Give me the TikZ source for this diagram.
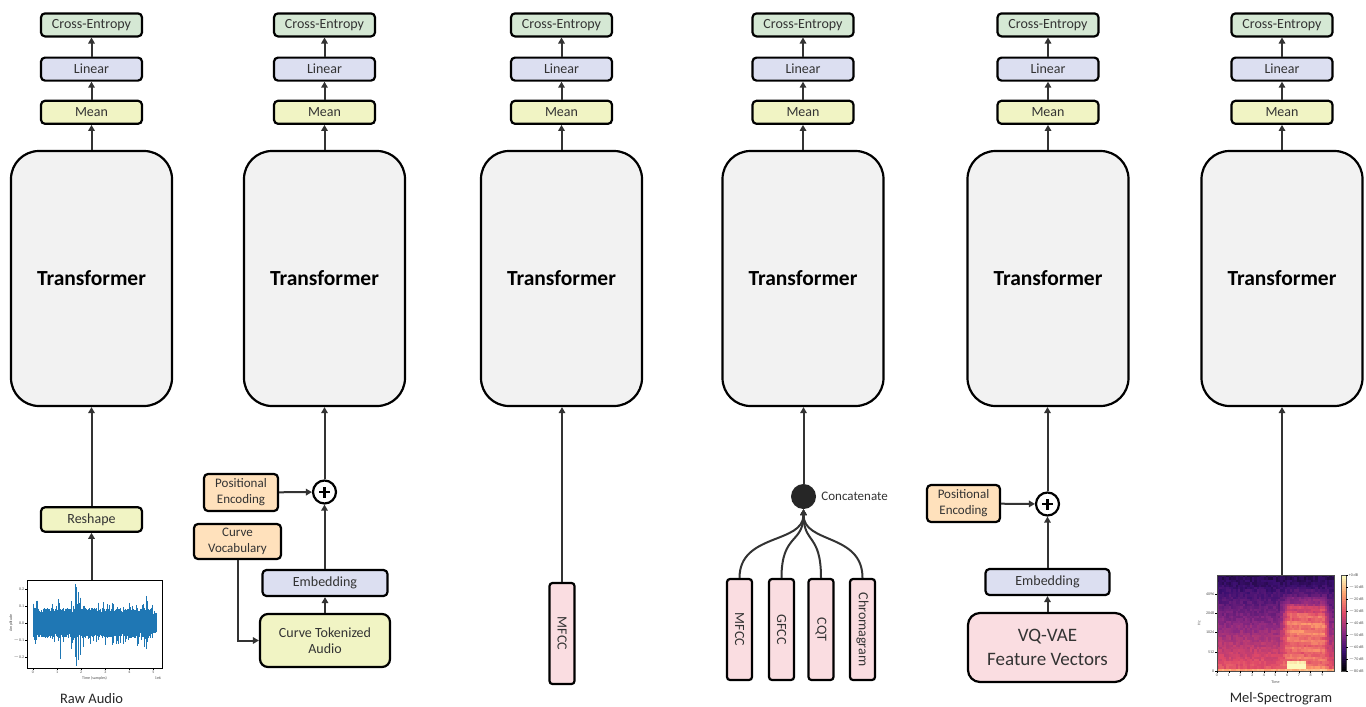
\documentclass[tikz,border=0pt]{standalone}
\usepackage{fontspec}
\setmainfont{Carlito}
\usepackage{graphicx}
\usetikzlibrary{arrows.meta,positioning,calc}

\definecolor{ceGreen}{HTML}{D5E8D4}
\definecolor{linBlue}{HTML}{DCDFF1}
\definecolor{meanYel}{HTML}{F1F4C4}
\definecolor{peEnc}{HTML}{FFE1BC}
\definecolor{featPink}{HTML}{FADDE1}
\definecolor{trGray}{HTML}{F2F2F2}
\definecolor{lineGray}{HTML}{333333}
\definecolor{waveBlue}{HTML}{1F77B4}
% magma colour map
\definecolor{mg0}{HTML}{000004}
\definecolor{mg1}{HTML}{3B0F70}
\definecolor{mg2}{HTML}{8C2981}
\definecolor{mg3}{HTML}{DE4968}
\definecolor{mg4}{HTML}{FE9F6D}
\definecolor{mg5}{HTML}{FCFDBF}

\tikzset{
  box/.style={draw=black, line width=2.2pt, rounded corners=4pt, text=lineGray,
    font=\fontsize{14}{16}\selectfont, minimum width=101pt, minimum height=23pt,
    inner sep=0pt, align=center},
  cebox/.style={box, fill=ceGreen},
  linbox/.style={box, fill=linBlue},
  meanbox/.style={box, fill=meanYel},
  trbox/.style={draw=black, line width=2.2pt, rounded corners=28pt, fill=trGray,
    minimum width=161pt, minimum height=255pt, font=\fontsize{21.5}{24}\selectfont\bfseries},
  pebox/.style={box, fill=peEnc, font=\fontsize{13}{16}\selectfont},
  featbar/.style={box, fill=featPink, minimum width=25pt, minimum height=101pt, rounded corners=3pt},
  addnode/.style={circle, draw=black, line width=2.2pt, fill=white, minimum size=23pt, inner sep=0pt,
    path picture={
      \draw[line width=2.6pt] ([xshift=-5.5pt]path picture bounding box.center) -- ([xshift=5.5pt]path picture bounding box.center);
      \draw[line width=2.6pt] ([yshift=-5.5pt]path picture bounding box.center) -- ([yshift=5.5pt]path picture bounding box.center);}},
  catnode/.style={circle, fill=black!85, minimum size=25pt, inner sep=0pt},
  arr/.style={draw=lineGray, line width=2pt, -{Triangle[length=6pt,width=6.5pt]}},
  lbl/.style={font=\fontsize{14.5}{16}\selectfont, text=black!85},
  tick/.style={font=\fontsize{4}{4}\selectfont, text=black!70, inner sep=0.6pt},
}

\begin{document}
\begin{tikzpicture}[x=1pt, y=-1pt]
\useasboundingbox (0,0) rectangle (1366,707);

% same head on every column
\foreach \c/\x in {1/91.5, 2/324.5, 3/561.5, 4/803, 5/1048, 6/1282}{
  \node[trbox] (Tr\c) at (\x,278.5) {Transformer};
  \node[meanbox, above=25pt of Tr\c] (Mean\c) {Mean};
  \node[linbox, above=18pt of Mean\c] (Lin\c) {Linear};
  \node[cebox, above=19pt of Lin\c] (CE\c) {Cross-Entropy};
  \draw[arr] (Tr\c) -- (Mean\c);
  \draw[arr] (Mean\c) -- (Lin\c);
  \draw[arr] (Lin\c) -- (CE\c);
}

% raw audio
\node[meanbox, minimum height=24.5pt] (Resh1) at (91.5,519.5) {Reshape};
\node[draw=black, line width=0.6pt, inner sep=0pt, minimum width=135pt, minimum height=88pt] (Wave) at (94.5,624) {};
\begin{scope}[waveBlue, line width=0.55pt]
  \pgfmathsetseed{7}
  \foreach \i in {0,...,300}{
    \pgfmathsetmacro\xx{33+\i*0.41}
    \pgfmathsetmacro\up{10+5*rnd+(rnd>0.86)*10*rnd-(\i>292)*4}
    \pgfmathsetmacro\dn{10+5*rnd+(rnd>0.86)*9*rnd-(\i>292)*4}
    \draw (\xx,{623-\up}) -- (\xx,{623+\dn});
  }
  \foreach \t/\u/\d in {0.05/0.09/0.1, 1.05/0.14/0.1, 1.12/0.08/0.21, 1.6/0.13/0.15, 1.76/0.23/0.2,
      1.8/0.21/0.25, 1.86/0.18/0.22, 1.95/0.15/0.19, 2.1/0.1/0.14, 2.7/0.12/0.1, 3.35/0.11/0.12,
      4.62/0.07/0.14, 4.7/0.16/0.15}{
    \draw ({33+\t*24.1},{623-\u*170}) -- ({33+\t*24.1},{623+\d*170});
  }
\end{scope}
\foreach \v/\y in {0.2/589, 0.1/606, 0.0/623, $-$0.1/640, $-$0.2/657}{
  \draw[line width=0.4pt] (27,\y) -- (25,\y);
  \node[tick, anchor=east] at (25,\y) {\v};
}
\foreach \k in {0,...,5}{
  \draw[line width=0.4pt] ({33+\k*24.1},668) -- ({33+\k*24.1},670);
  \node[tick, anchor=north] at ({33+\k*24.1},670) {\k};
}
\node[tick, rotate=90] at (11,623) {Amplitude};
\node[tick] at (94.5,678) {Time (samples)};
\node[tick] at (158,678) {1e6};
\node[lbl] (RawLbl) at (91.5,699) {Raw Audio};
\draw[arr] (Wave.north -| Resh1.south) -- (Resh1);
\draw[arr] (Resh1) -- (Tr1);

% curve tokens
\node[addnode] (Add2) at (324.5,492) {};
\node[pebox, minimum width=74pt, minimum height=37pt] (Pos2) at (241,492.5) {Positional\\Encoding};
\node[pebox, minimum width=87pt, minimum height=35pt] (Voc2) at (237.5,541.5) {Curve\\Vocabulary};
\node[linbox, minimum width=125pt, minimum height=26pt] (Emb2) at (325,583) {Embedding};
\node[meanbox, minimum width=130pt, minimum height=53pt, rounded corners=8pt] (Tok2) at (325,640.5) {Curve Tokenized\\Audio};
\draw[arr] (Tok2) -- (Emb2);
\draw[arr] (Emb2.north -| Add2) -- (Add2);
\draw[arr] (Pos2) -- (Add2);
\draw[arr] (Add2) -- (Tr2);
\draw[arr] (Voc2.south) |- (Tok2.west);

% mfcc
\node[featbar] (Mfcc3) at (562,633.5) {\rotatebox{-90}{MFCC}};
\draw[arr] (Mfcc3) -- (Mfcc3 |- Tr3.south);

% concatenated features
\node[catnode] (Cat4) at (803.5,496.5) {};
\node[right=5pt of Cat4, font=\fontsize{13}{15}\selectfont, text=lineGray, inner sep=0pt] (CatLbl) {Concatenate};
\foreach \n/\x/\t in {Mfcc4/739.5/MFCC, Gfcc4/781.5/GFCC, Cqt4/821/CQT, Chroma4/862.5/Chromagram}{
  \node[featbar] (\n) at (\x,629.5) {\rotatebox{-90}{\t}};
  \draw[arr] (\n.north) .. controls +(0,-45) and +(0,35) .. (Cat4.south);
}
\draw[arr] (Cat4) -- (Cat4 |- Tr4.south);

% vq-vae
\node[addnode] (Add5) at (1047.5,504) {};
\node[pebox, minimum width=73pt, minimum height=37pt] (Pos5) at (963.5,503.5) {Positional\\Encoding};
\node[linbox, minimum width=124pt, minimum height=26pt] (Emb5) at (1047.5,582) {Embedding};
\node[box, fill=featPink, minimum width=159pt, minimum height=69pt, rounded corners=12pt,
  font=\fontsize{19}{24}\selectfont] (Vq5) at (1047.5,647.5) {VQ-VAE\\Feature Vectors};
\draw[arr] (Vq5) -- (Emb5);
\draw[arr] (Emb5) -- (Add5);
\draw[arr] (Pos5) -- (Add5);
\draw[arr] (Add5) -- (Add5 |- Tr5.south);

% mel-spectrogram
\node[inner sep=0pt, minimum width=117pt, minimum height=96pt] (Mel) at (1275.5,623) {};
\pgfmathsetseed{3}
\foreach \i in {0,...,49}{
  \foreach \j in {0,...,39}{
    \pgfmathsetmacro\tm{\i/49*10}
    \pgfmathsetmacro\hh{\j/39}
    \pgfmathsetmacro\sp{min(1,max(0,(\tm-5.3)*1.1))*min(1,max(0,(9.8-\tm)*1.5))*min(1,max(0,(0.92-\hh)*4))}
    \pgfmathsetmacro\vv{0.6-0.5*\hh+0.08*rnd+(\j==0)*0.17+\sp*(0.08+0.24*exp(-((\hh-0.5)/0.25)^2)+0.05*sin(\hh*4000+\tm*40))+and(\tm>6.1,\tm<7.6)*and(\j>0,\j<4)*0.3}
    \pgfmathsetmacro\vv{max(0,min(0.995,\vv))}
    \pgfmathtruncatemacro\sg{floor(\vv*5)}
    \pgfmathtruncatemacro\pc{(\vv*5-\sg)*100}
    \pgfmathtruncatemacro\sn{\sg+1}
    \path[fill={mg\sn!\pc!mg\sg}] ({1217+\i*2.34},{671-(\j+1)*2.4-0.2}) rectangle ({1217+(\i+1)*2.34+0.2},{671-\j*2.4});
  }
}
\draw[line width=0.4pt, black!70] (1217,575) rectangle (1334,671);
\foreach \v/\y in {0/671, 512/652, 1024/632, 2048/613, 4096/594}{
  \draw[line width=0.4pt] (1217,\y) -- (1215,\y);
  \node[tick, anchor=east] at (1215,\y) {\v};
}
\foreach \k in {0,...,9}{
  \draw[line width=0.4pt] ({1217+\k*11.7},671) -- ({1217+\k*11.7},673);
  \node[tick, anchor=north] at ({1217+\k*11.7},673) {\k};
}
\node[tick, rotate=90] at (1199,623) {Hz};
\node[tick] at (1275.5,682) {Time};
% colour bar
\foreach \k in {0,...,47}{
  \pgfmathsetmacro\vv{min(0.995,\k/47)}
  \pgfmathtruncatemacro\sg{floor(\vv*5)}
  \pgfmathtruncatemacro\pc{(\vv*5-\sg)*100}
  \pgfmathtruncatemacro\sn{\sg+1}
  \path[fill={mg\sn!\pc!mg\sg}] (1341,{671-(\k+1)*2-0.2}) rectangle (1346,{671-\k*2});
}
\draw[line width=0.4pt, black!70] (1341,575) rectangle (1346,671);
\foreach \k in {0,...,8}{
  \draw[line width=0.4pt] (1346,{575+\k*12}) -- (1348,{575+\k*12});
  \node[tick, anchor=west] at (1348,{575+\k*12}) {\ifnum\k=0 +0\else $-$\k0\fi\ dB};
}
\node[lbl] (MelLbl) at (1281,699) {Mel-Spectrogram};
\draw[arr] (Mel.north -| Tr6) -- (Tr6);
\end{tikzpicture}
\end{document}
